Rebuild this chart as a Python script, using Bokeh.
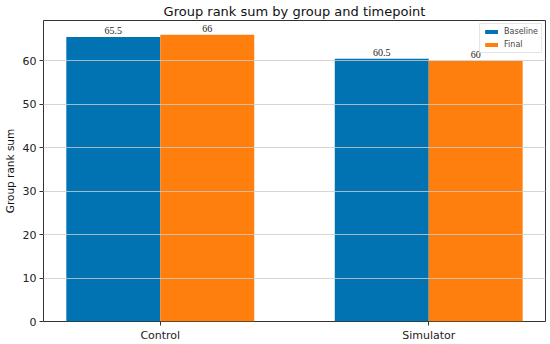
import numpy as np
from bokeh.plotting import figure
from bokeh.models import Range1d, FixedTicker, ColumnDataSource, Legend, LegendItem
from bokeh.embed import file_html
from bokeh.resources import INLINE

groups = ["Control", "Simulator"]
baseline = [65.5, 60.5]
final = [66, 60]
series_names = ["Baseline", "Final"]
y_ticks = [0, 10, 20, 30, 40, 50, 60]

FONT = "DejaVu Sans"
BLUE = "#0173b2"
ORANGE = "#ff7f0e"
width = 0.35

idx = np.arange(len(groups))
p = figure(width=550, height=344, output_backend="svg", toolbar_location=None,
           x_range=Range1d(-0.435, 1.435), y_range=Range1d(0, 69.3),
           min_border_left=0, min_border_right=5, min_border_top=0, min_border_bottom=0,
           title="Group rank sum by group and timepoint")
p.title.align = "center"
p.title.text_font = FONT
p.title.text_font_size = "13px"
p.title.text_font_style = "normal"
p.title.text_color = "#111111"
p.title.standoff = 3
p.title.offset = 0

src_b = ColumnDataSource(dict(x=idx - width / 2, top=baseline, lab=[f"{v:g}" for v in baseline]))
src_f = ColumnDataSource(dict(x=idx + width / 2, top=final, lab=[f"{v:g}" for v in final]))
rb = p.vbar(x="x", top="top", width=width, bottom=0, source=src_b, fill_color=BLUE, line_color=None)
rf = p.vbar(x="x", top="top", width=width, bottom=0, source=src_f, fill_color=ORANGE, line_color=None)

for src in (src_b, src_f):
    p.text(x="x", y="top", text="lab", source=src, text_align="center", text_baseline="bottom",
           y_offset=-3, text_font=FONT, text_font_size="10px", text_color="#222222")

p.xaxis.ticker = FixedTicker(ticks=list(idx))
p.xaxis.major_label_overrides = {int(i): g for i, g in zip(idx, groups)}
p.yaxis.ticker = FixedTicker(ticks=y_ticks)
p.yaxis.axis_label = "Group rank sum"
p.yaxis.axis_label_text_font = FONT
p.yaxis.axis_label_text_font_size = "10.5px"
p.yaxis.axis_label_text_font_style = "normal"
p.yaxis.axis_label_text_color = "#111111"
p.yaxis.axis_label_standoff = 4
for ax in (p.xaxis[0], p.yaxis[0]):
    ax.major_label_text_font = FONT
    ax.major_label_text_font_size = "11px"
    ax.major_label_text_color = "#222222"
    ax.axis_line_color = None
    ax.major_tick_in = 0
    ax.major_tick_out = 4
    ax.minor_tick_line_color = None
    ax.major_tick_line_color = "#333333"
    ax.major_label_standoff = 3

p.xgrid.grid_line_color = None
p.ygrid.grid_line_color = "#cccccc"
p.ygrid.grid_line_alpha = 0.8
p.ygrid.level = "overlay"
p.outline_line_color = "#333333"
p.outline_line_width = 1

legend = Legend(items=[LegendItem(label=series_names[0], renderers=[rb]),
                       LegendItem(label=series_names[1], renderers=[rf])],
                location="top_right")
legend.label_text_font = FONT
legend.label_text_font_size = "8px"
legend.glyph_width = 16
legend.glyph_height = 5
legend.label_height = 7
legend.label_standoff = 5
legend.spacing = 4
legend.padding = 3
legend.margin = 3
legend.border_line_color = "#cccccc"
legend.background_fill_alpha = 0.8
p.add_layout(legend)

open("out.html", "w").write(file_html(p, INLINE))
